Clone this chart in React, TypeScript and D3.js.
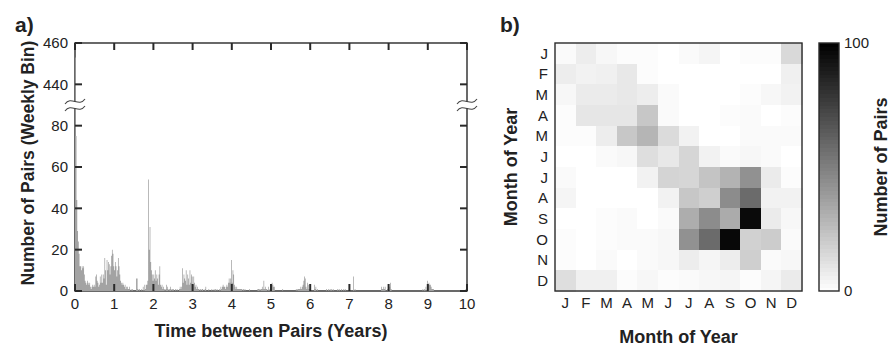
import React from "react";
import * as d3 from "d3";

// ---- Panel a: weekly histogram of time between pairs (52 weekly bins per year) ----
const year0 = [453, 75, 44, 29, 24, 18, 12, 12, 10, 12, 11, 12, 8, 5, 4, 3, 5, 4, 3, 4, 2, 1, 2, 3, 2, 3, 2, 7, 8, 5, 4, 2, 3, 7, 4, 8, 4, 8, 6, 16, 10, 3, 15, 10, 14, 13, 8, 12, 17, 20, 18, 12];
const year1 = [10, 14, 12, 7, 10, 16, 12, 8, 5, 4, 3, 4, 3, 2, 3, 1, 2, 2, 1, 1, 2, 0, 1, 0, 1, 0, 0, 0, 0, 6, 6, 1, 0, 1, 0, 0, 1, 0, 2, 0, 3, 1, 3, 3, 5, 54, 20, 31, 14, 10, 8, 5];
const year2 = [8, 6, 10, 5, 8, 6, 3, 8, 12, 3, 2, 3, 1, 2, 1, 0, 1, 3, 2, 1, 0, 1, 2, 1, 0, 1, 1, 0, 0, 1, 0, 1, 0, 0, 1, 2, 1, 2, 11, 4, 8, 6, 5, 10, 3, 8, 6, 3, 10, 4, 8, 7];
const year3 = [3, 7, 4, 2, 3, 1, 2, 1, 1, 0, 1, 0, 1, 1, 0, 0, 1, 2, 0, 0, 0, 1, 0, 0, 0, 1, 0, 0, 1, 0, 1, 0, 1, 0, 0, 1, 0, 2, 1, 2, 3, 2, 2, 1, 2, 3, 2, 4, 6, 4, 6, 15];
const year4 = [4, 10, 8, 3, 2, 1, 2, 1, 1, 1, 1, 1, 1, 1, 0, 1, 0, 1, 0, 0, 0, 0, 0, 1, 0, 0, 0, 0, 0, 0, 0, 0, 0, 0, 1, 1, 1, 0, 1, 1, 2, 1, 5, 1, 2, 1, 1, 0, 2, 0, 1, 2];
const year5 = [3, 4, 3, 2, 2, 0, 0, 0, 0, 0, 0, 0, 0, 0, 0, 1, 0, 0, 0, 0, 0, 0, 0, 0, 0, 0, 0, 0, 0, 0, 0, 0, 0, 1, 0, 1, 1, 1, 1, 2, 1, 2, 3, 5, 7, 6, 2, 1, 4, 3, 1, 1];
const year6 = [1, 0, 0, 0, 0, 3, 1, 2, 0, 1, 0, 0, 0, 0, 0, 0, 0, 0, 0, 0, 0, 1, 0, 0, 1, 0, 1, 0, 1, 0, 1, 0, 0, 0, 0, 0, 1, 0, 1, 0, 0, 1, 0, 0, 1, 0, 1, 0, 0, 0, 0, 0];
const year7 = [0, 0, 0, 0, 0, 7, 0, 1, 0, 0, 0, 0, 0, 0, 0, 0, 0, 0, 0, 0, 0, 0, 0, 0, 0, 0, 0, 0, 0, 0, 0, 0, 0, 0, 0, 0, 0, 0, 0, 0, 0, 0, 2, 1, 1, 2, 1, 2, 0, 0, 1, 0];
const year8 = [0, 2, 4, 1, 0, 0, 0, 0, 0, 0, 0, 0, 0, 0, 0, 0, 0, 0, 0, 0, 0, 0, 0, 0, 0, 0, 0, 0, 0, 0, 0, 0, 0, 0, 0, 0, 0, 0, 0, 0, 0, 0, 0, 0, 0, 1, 0, 1, 0, 2, 0, 5];
const year9 = [3, 4, 3, 3, 2, 1, 1, 1, 0, 0, 0, 0, 0, 0, 0, 0, 0, 0, 0, 0, 0, 0, 0, 0, 0, 0, 0, 0, 0, 0, 0, 0, 0, 0, 0, 0, 0, 0, 0, 0, 0, 0, 0, 0, 0, 0, 0, 0, 0, 0, 1, 2];
const weeklyCounts = [...year0, ...year1, ...year2, ...year3, ...year4, ...year5, ...year6, ...year7, ...year8, ...year9];
const weeksPerYear = 52;
const yearTicks = [0, 1, 2, 3, 4, 5, 6, 7, 8, 9, 10];
const countTicks = [0, 20, 40, 60, 80, 440, 460];
const countDomain = [0, 90, 430, 460]; // broken axis: 90..430 is cut out

// ---- Panel b: month-of-year pairs matrix (rows: top J .. bottom D) ----
const monthLabels = ["J", "F", "M", "A", "M", "J", "J", "A", "S", "O", "N", "D"];
const pairsJan = [2, 7, 3, 1, 1, 0, 2, 4, 0, 1, 1, 15];
const pairsFeb = [7, 5, 6, 9, 1, 0, 0, 0, 0, 0, 0, 6];
const pairsMar = [3, 8, 8, 9, 7, 2, 0, 0, 0, 1, 3, 5];
const pairsApr = [1, 10, 10, 10, 22, 2, 0, 0, 1, 2, 0, 1];
const pairsMay = [1, 1, 7, 22, 29, 14, 5, 0, 0, 2, 2, 2];
const pairsJun = [0, 0, 2, 3, 13, 9, 16, 5, 2, 3, 2, 0];
const pairsJul = [2, 0, 0, 0, 5, 17, 16, 23, 30, 43, 8, 1];
const pairsAug = [4, 0, 0, 0, 0, 5, 22, 19, 45, 58, 5, 5];
const pairsSep = [0, 0, 1, 2, 0, 2, 32, 45, 33, 96, 8, 3];
const pairsOct = [1, 0, 1, 2, 2, 3, 43, 58, 97, 18, 20, 2];
const pairsNov = [1, 0, 2, 0, 2, 3, 7, 4, 7, 19, 2, 3];
const pairsDec = [13, 6, 6, 1, 3, 1, 2, 3, 4, 1, 4, 8];
const pairMatrix = [pairsJan, pairsFeb, pairsMar, pairsApr, pairsMay, pairsJun, pairsJul, pairsAug, pairsSep, pairsOct, pairsNov, pairsDec];
const colorbarTicks = [0, 100];
const colorLevels = 64;

const FONT = "'Liberation Sans', Arial, Helvetica, sans-serif";
const AXIS = "#2a2a2a";
const TEXT = "#222";

export default function App() {
  const W = 895, H = 347;
  // panel a
  const aL = 75, aR = 467, aT = 43, aB = 291;
  const x = d3.scaleLinear().domain([0, 10]).range([aL, aR]);
  const yCut = aB - (aB - aT) * 90 / 120;
  const y = d3.scaleLinear().domain(countDomain).range([aB, yCut, yCut, aT]);
  const yBreak = y(90);
  const tick = 7;

  const stepData = [...weeklyCounts, 0];
  const histPath = d3
    .area<number>()
    .x((_, i) => x(i / weeksPerYear))
    .y0(aB)
    .y1((d) => y(d))
    .curve(d3.curveStepAfter)(stepData) || "";

  // panel b
  const bL = 555, bR = 802, bT = 43, bB = 291;
  const cx = d3.scaleBand<number>().domain(d3.range(12)).range([bL, bR]);
  const cy = d3.scaleBand<number>().domain(d3.range(12)).range([bT, bB]);
  const gray = d3.scaleLinear<string>().domain([0, 100]).range(["#ffffff", "#000000"]).clamp(true);
  const cbL = 819, cbR = 839;
  const cbY = d3.scaleLinear().domain([0, 100]).range([bB, bT]);

  const breakMark = (xc: number, key: string) => (
    <g key={key}>
      <rect x={xc - 4} y={yBreak - 3} width={8} height={6} fill="#fff" />
      {[-3.5, 3.5].map((d, i) => (
        <path
          key={i}
          d={`M${xc - 10},${yBreak + d + 2.5} C${xc - 4},${yBreak + d - 6} ${xc + 4},${yBreak + d + 6} ${xc + 10},${yBreak + d - 2.5}`}
          fill="none"
          stroke="#444"
          strokeWidth={1.1}
        />
      ))}
    </g>
  );

  return (
    <svg width={W} height={H} style={{ position: "absolute", left: 0, top: 0, background: "#fff" }} fontFamily={FONT}>
      {/* ---------------- Panel a ---------------- */}
      <text x={15} y={32} fontSize={21} fontWeight="bold" fill={TEXT}>a)</text>
      <rect x={aL} y={aT} width={aR - aL} height={aB - aT} fill="none" stroke={AXIS} strokeWidth={1.4} />
      <path d={histPath} fill="#a3a3a3" />
      {yearTicks.map((t) => (
        <g key={"xt" + t}>
          <line x1={x(t)} x2={x(t)} y1={aB} y2={aB - tick} stroke={AXIS} strokeWidth={2} />
          <line x1={x(t)} x2={x(t)} y1={aT} y2={aT + tick} stroke={AXIS} strokeWidth={2} />
          <text x={x(t)} y={309} textAnchor="middle" fontSize={15} fill={TEXT}>{t}</text>
        </g>
      ))}
      {countTicks.map((t) => (
        <g key={"yt" + t}>
          <line x1={aL} x2={aL + tick} y1={y(t)} y2={y(t)} stroke={AXIS} strokeWidth={2} />
          <line x1={aR} x2={aR - tick} y1={y(t)} y2={y(t)} stroke={AXIS} strokeWidth={2} />
          <text x={68} y={y(t)} dy="0.36em" textAnchor="end" fontSize={15} fill={TEXT}>{t}</text>
        </g>
      ))}
      {breakMark(aL, "bl")}
      {breakMark(aR, "br")}
      <text
        transform={`translate(34,${(aT + aB) / 2 - 4}) rotate(-90)`}
        textAnchor="middle"
        fontSize={17.5}
        fontWeight="bold"
        fill={TEXT}
      >
        Number of Pairs (Weekly Bin)
      </text>
      <text x={(aL + aR) / 2} y={337} textAnchor="middle" fontSize={18} fontWeight="bold" fill={TEXT}>
        Time between Pairs (Years)
      </text>

      {/* ---------------- Panel b ---------------- */}
      <text x={500} y={32} fontSize={21} fontWeight="bold" fill={TEXT}>b)</text>
      <g shapeRendering="crispEdges">
        {pairMatrix.map((row, r) =>
          row.map((v, c) => (
            <rect
              key={r + "-" + c}
              x={cx(c)}
              y={cy(r)}
              width={cx.bandwidth() + 0.5}
              height={cy.bandwidth() + 0.5}
              fill={gray(v)}
            />
          ))
        )}
      </g>
      <rect x={bL} y={bT} width={bR - bL} height={bB - bT} fill="none" stroke={AXIS} strokeWidth={1.4} />
      {monthLabels.map((m, i) => (
        <g key={"m" + i}>
          <text x={cx(i)! + cx.bandwidth() / 2} y={308} textAnchor="middle" fontSize={15} fill={TEXT}>{m}</text>
          <text x={548} y={cy(i)! + cy.bandwidth() / 2} dy="0.36em" textAnchor="end" fontSize={15} fill={TEXT}>{m}</text>
        </g>
      ))}
      <text
        transform={`translate(517,${(bT + bB) / 2}) rotate(-90)`}
        textAnchor="middle"
        fontSize={18}
        fontWeight="bold"
        fill={TEXT}
      >
        Month of Year
      </text>
      <text x={(bL + bR) / 2} y={343} textAnchor="middle" fontSize={18} fontWeight="bold" fill={TEXT}>
        Month of Year
      </text>

      {/* colorbar */}
      <g shapeRendering="crispEdges">
        {d3.range(colorLevels).map((k) => {
          const v0 = (k / colorLevels) * 100;
          const v1 = ((k + 1) / colorLevels) * 100;
          return (
            <rect
              key={"cb" + k}
              x={cbL}
              width={cbR - cbL}
              y={cbY(v1)}
              height={cbY(v0) - cbY(v1) + 0.5}
              fill={gray(((k + 0.5) / colorLevels) * 100)}
            />
          );
        })}
      </g>
      <rect x={cbL} y={bT} width={cbR - cbL} height={bB - bT} fill="none" stroke={AXIS} strokeWidth={1.4} />
      {colorbarTicks.map((t) => (
        <text key={"cbt" + t} x={844} y={cbY(t)} dy="0.36em" fontSize={15} fill={TEXT}>{t}</text>
      ))}
      <text
        transform={`translate(887,${(bT + bB) / 2}) rotate(-90)`}
        textAnchor="middle"
        fontSize={18}
        fontWeight="bold"
        fill={TEXT}
      >
        Number of Pairs
      </text>
    </svg>
  );
}
